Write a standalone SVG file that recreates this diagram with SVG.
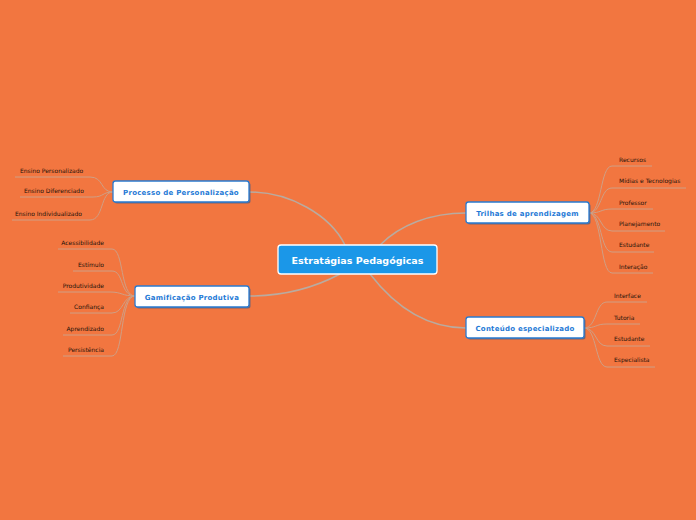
<svg xmlns="http://www.w3.org/2000/svg" width="696" height="520" viewBox="0 0 696 520">
<style>
.bg{fill:#f27640}
.main{fill:none;stroke:#b9aba0;stroke-width:1.5}
.leafc{fill:none;stroke:#cf9f85;stroke-width:1}
.leaf{font-family:"DejaVu Sans",Verdana,sans-serif;font-size:6px;fill:#24120a}
.sub rect.box{fill:#ffffff;stroke:#2a7bd0;stroke-width:1.3}
.sub rect.sh{fill:#1f5a9a;opacity:0.6}
.sub text{font-family:"DejaVu Sans",Verdana,sans-serif;font-size:7px;font-weight:bold;fill:#1f7ad6;text-anchor:middle;letter-spacing:0.25px}
.center rect{fill:#1b97e8;stroke:#ffffff;stroke-width:1.3}
.center text{font-family:"DejaVu Sans",Verdana,sans-serif;font-size:9.5px;font-weight:bold;fill:#ffffff;text-anchor:middle}
</style>
<rect class="bg" x="0" y="0" width="696" height="520"/>
<g id="connectors">
<path class="main" d="M345 245 C330 215, 290 192, 249 192"/>
<path class="main" d="M340 274 C310 290, 280 296, 249 296"/>
<path class="main" d="M380 245 C400 225, 430 213, 466 213"/>
<path class="main" d="M370 274 C390 300, 420 328, 466 328"/>
<path class="leafc" d="M113 192 C100 192, 104 177, 90 177 L15 177"/>
<path class="leafc" d="M113 192 C102 192, 104 197, 93 197 L20 197"/>
<path class="leafc" d="M113 192 C100 192, 104 220, 90 220 L12 220"/>
<path class="leafc" d="M135 296 C120 296, 124 249, 112 249 L58 249"/>
<path class="leafc" d="M135 296 C120 296, 124 271, 112 271 L73 271"/>
<path class="leafc" d="M135 296 C122 296, 122 292, 110 292 L58 292"/>
<path class="leafc" d="M135 296 C122 296, 124 313, 112 313 L70 313"/>
<path class="leafc" d="M135 296 C120 296, 124 335, 112 335 L63 335"/>
<path class="leafc" d="M135 296 C120 296, 124 356, 112 356 L63 356"/>
<path class="leafc" d="M589 213 C602 213, 600 166, 612 166 L652 166"/>
<path class="leafc" d="M589 213 C602 213, 600 188, 612 188 L686 188"/>
<path class="leafc" d="M589 213 C602 213, 600 209, 612 209 L653 209"/>
<path class="leafc" d="M589 213 C602 213, 600 231, 612 231 L665 231"/>
<path class="leafc" d="M589 213 C602 213, 600 252, 612 252 L654 252"/>
<path class="leafc" d="M589 213 C602 213, 600 273, 612 273 L653 273"/>
<path class="leafc" d="M584 328 C597 328, 595 302, 607 302 L647 302"/>
<path class="leafc" d="M584 328 C597 328, 595 324, 607 324 L640 324"/>
<path class="leafc" d="M584 328 C597 328, 595 346, 607 346 L650 346"/>
<path class="leafc" d="M584 328 C597 328, 595 367, 607 367 L655 367"/>
</g>
<g id="leaves">
<text class="leaf" x="20" y="173">Ensino Personalizado</text>
<text class="leaf" x="24" y="193">Ensino Diferenciado</text>
<text class="leaf" x="15" y="216">Ensino Individualizado</text>
<text class="leaf" x="104" y="245" text-anchor="end">Acessibilidade</text>
<text class="leaf" x="104" y="267" text-anchor="end">Estímulo</text>
<text class="leaf" x="104" y="288" text-anchor="end">Produtividade</text>
<text class="leaf" x="104" y="309" text-anchor="end">Confiança</text>
<text class="leaf" x="104" y="331" text-anchor="end">Aprendizado</text>
<text class="leaf" x="104" y="352" text-anchor="end">Persistência</text>
<text class="leaf" x="619" y="162">Recursos</text>
<text class="leaf" x="619" y="183">Mídias e Tecnologias</text>
<text class="leaf" x="619" y="205">Professor</text>
<text class="leaf" x="619" y="226">Planejamento</text>
<text class="leaf" x="619" y="247">Estudante</text>
<text class="leaf" x="619" y="269">Interação</text>
<text class="leaf" x="614" y="298">Interface</text>
<text class="leaf" x="614" y="320">Tutoria</text>
<text class="leaf" x="614" y="341">Estudante</text>
<text class="leaf" x="614" y="362">Especialista</text>
</g>
<g id="node-processo" class="sub">
<rect class="sh" x="114.5" y="182.5" width="136" height="21" rx="2.5"/>
<rect class="box" x="113" y="181" width="136" height="21" rx="2.5"/>
<text x="181" y="194.5">Processo de Personalização</text>
</g>
<g id="node-gamificacao" class="sub">
<rect class="sh" x="136.5" y="287.5" width="114" height="21" rx="2.5"/>
<rect class="box" x="135" y="286" width="114" height="21" rx="2.5"/>
<text x="192" y="299.5">Gamificação Produtiva</text>
</g>
<g id="node-trilhas" class="sub">
<rect class="sh" x="467.5" y="203.5" width="123" height="21" rx="2.5"/>
<rect class="box" x="466" y="202" width="123" height="21" rx="2.5"/>
<text x="527.5" y="215.5">Trilhas de aprendizagem</text>
</g>
<g id="node-conteudo" class="sub">
<rect class="sh" x="467.5" y="318.5" width="118" height="21" rx="2.5"/>
<rect class="box" x="466" y="317" width="118" height="21" rx="2.5"/>
<text x="525" y="330.5">Conteúdo especializado</text>
</g>
<g id="node-central" class="center">
<rect x="278" y="245" width="159" height="29" rx="3"/>
<text x="357.5" y="263.5">Estratágias Pedagógicas</text>
</g>
</svg>
